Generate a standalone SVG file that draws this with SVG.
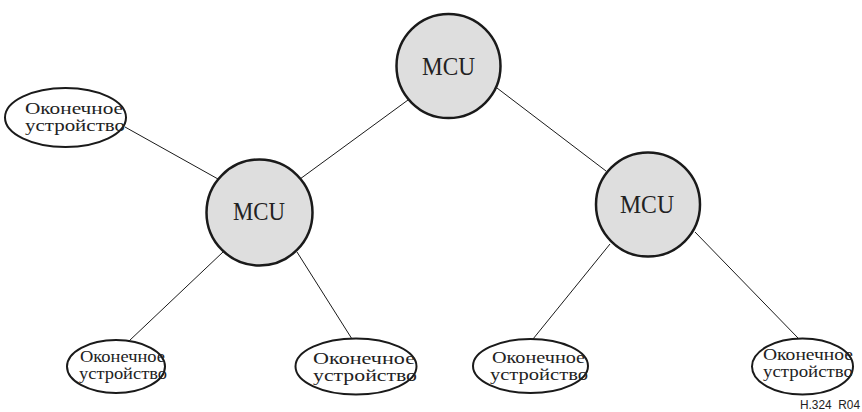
<svg xmlns="http://www.w3.org/2000/svg" width="862" height="412" viewBox="0 0 862 412">
<style>
.mcu{fill:#dedede;stroke:#1a1a1a;stroke-width:2.5}
.term{fill:#fff;stroke:#1a1a1a;stroke-width:2}
.conn{stroke:#1a1a1a;stroke-width:1;fill:none}
.lbl{font-family:"Liberation Serif","Times New Roman",serif;fill:#222}
.m{font-size:25px}
.t{font-size:16px}
.ref{font-family:"Liberation Sans",Arial,sans-serif;font-size:12px;fill:#222}
</style>
<rect width="862" height="412" fill="#fff"/>
<g id="connectors">
<line class="conn" x1="408" y1="100" x2="300" y2="179"/>
<line class="conn" x1="497" y1="88" x2="606" y2="171"/>
<line class="conn" x1="125" y1="127" x2="218" y2="179"/>
<line class="conn" x1="223" y1="252" x2="129" y2="341"/>
<line class="conn" x1="297" y1="252" x2="352" y2="339"/>
<line class="conn" x1="610" y1="244" x2="533" y2="339"/>
<line class="conn" x1="695" y1="232" x2="798" y2="338"/>
</g>
<g id="mcu-top">
<circle class="mcu" cx="448.5" cy="66" r="52"/>
<text class="lbl m" x="422" y="75" textLength="53" lengthAdjust="spacingAndGlyphs">MCU</text>
</g>
<g id="mcu-left">
<circle class="mcu" cx="259.5" cy="212.5" r="53"/>
<text class="lbl m" x="233" y="220" textLength="52" lengthAdjust="spacingAndGlyphs">MCU</text>
</g>
<g id="mcu-right">
<circle class="mcu" cx="648" cy="204.5" r="52"/>
<text class="lbl m" x="620" y="212.5" textLength="54" lengthAdjust="spacingAndGlyphs">MCU</text>
</g>
<g id="term-topleft">
<ellipse class="term" cx="65.5" cy="117.5" rx="60.5" ry="29.5"/>
<text class="lbl t" x="25" y="114" textLength="98" lengthAdjust="spacingAndGlyphs">Оконечное</text>
<text class="lbl t" x="25" y="131" textLength="100" lengthAdjust="spacingAndGlyphs">устройство</text>
</g>
<g id="term-bl">
<ellipse class="term" cx="116" cy="366.5" rx="49" ry="26.5"/>
<text class="lbl t" x="80" y="362" textLength="85" lengthAdjust="spacingAndGlyphs">Оконечное</text>
<text class="lbl t" x="79" y="379" textLength="88" lengthAdjust="spacingAndGlyphs">устройство</text>
</g>
<g id="term-bc">
<ellipse class="term" cx="356" cy="366.5" rx="60.5" ry="28"/>
<text class="lbl t" x="313" y="364" textLength="102" lengthAdjust="spacingAndGlyphs">Оконечное</text>
<text class="lbl t" x="313" y="381" textLength="104" lengthAdjust="spacingAndGlyphs">устройство</text>
</g>
<g id="term-brc">
<ellipse class="term" cx="530.5" cy="366" rx="57.5" ry="27"/>
<text class="lbl t" x="492" y="362.5" textLength="93" lengthAdjust="spacingAndGlyphs">Оконечное</text>
<text class="lbl t" x="490" y="379.5" textLength="98" lengthAdjust="spacingAndGlyphs">устройство</text>
</g>
<g id="term-br">
<ellipse class="term" cx="802.5" cy="366.5" rx="50.5" ry="28"/>
<text class="lbl t" x="763" y="360" textLength="90" lengthAdjust="spacingAndGlyphs">Оконечное</text>
<text class="lbl t" x="763" y="377" textLength="90" lengthAdjust="spacingAndGlyphs">устройство</text>
</g>
<text class="ref" x="800" y="409" textLength="60" lengthAdjust="spacingAndGlyphs" xml:space="preserve">H.324  R04</text>
</svg>
